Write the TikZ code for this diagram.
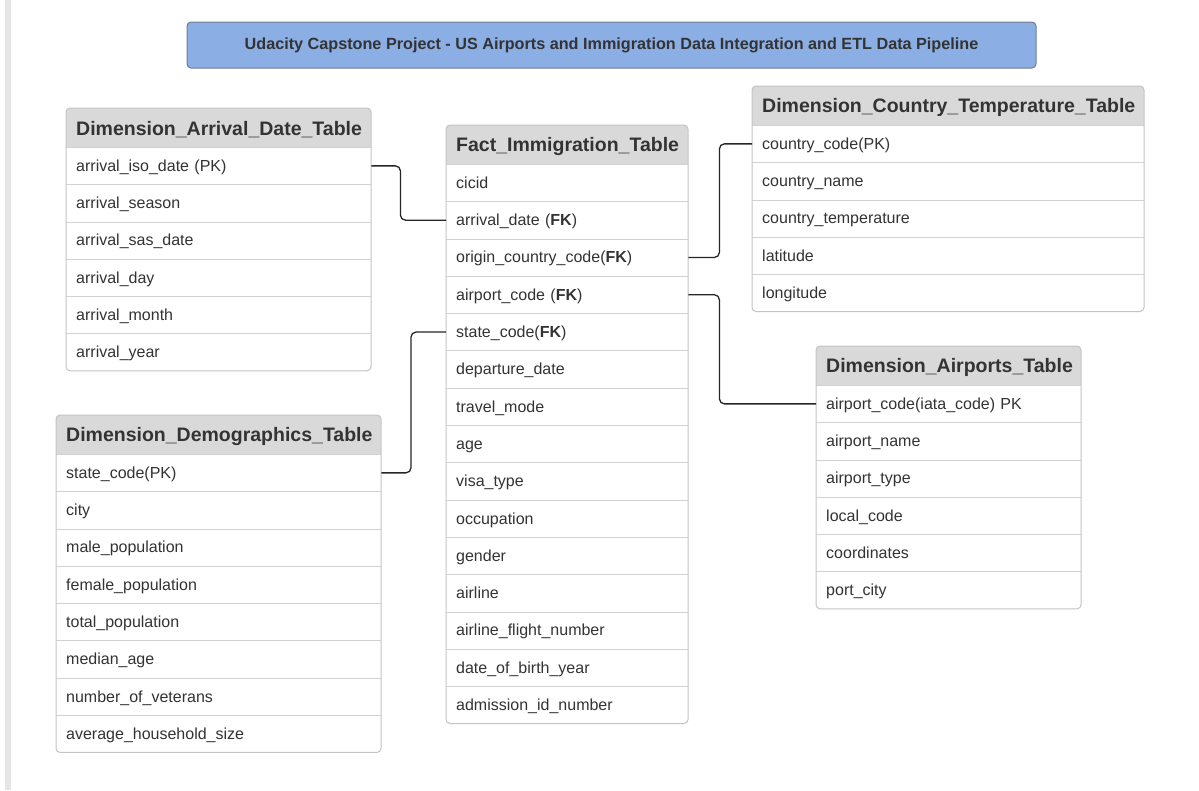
\documentclass[tikz,border=0pt]{standalone}
\usepackage{fontspec}
\setmainfont{Liberation Sans}
\usetikzlibrary{calc}
\definecolor{txt}{HTML}{333333}
\definecolor{headfill}{HTML}{D9D9D9}
\definecolor{tborder}{HTML}{C4C4C4}
\definecolor{rowsep}{HTML}{D2D2D2}
\definecolor{titlefill}{HTML}{8BAEE4}
\definecolor{titleborder}{HTML}{6F7D93}
\definecolor{sidebar}{HTML}{E6E6E6}
\tikzset{
  rowtext/.style={rectangle, inner xsep=10pt, inner ysep=0pt, anchor=north west,
    text=txt, font=\fontsize{16}{18}\selectfont, align=left, text height=13.5pt, text depth=2.5pt},
  headtext/.style={anchor=west, inner sep=0pt, text=txt, font=\fontsize{19.5}{22}\selectfont\bfseries},
  conn/.style={draw=black!85, line width=1.3pt, rounded corners=5pt},
  sepline/.style={draw=rowsep, line width=1pt},
  tableframe/.style={draw=tborder, line width=1pt, rounded corners=4pt},
}
% #1 name, #2 x, #3 y, #4 width, #5 rows count, #6 title, #7 rows
\newcommand\ertable[7]{%
  \pgfmathsetmacro\tabH{39+#5*37.3}%
  \fill[white, rounded corners=4pt] (#2,#3) rectangle ++(#4,\tabH);
  \begin{scope}
    \clip[rounded corners=4pt] (#2,#3) rectangle ++(#4,\tabH);
    \fill[headfill] (#2,#3) rectangle ++(#4,39);
  \end{scope}
  \draw[sepline] (#2,#3+39) -- ++(#4,0);
  \node[headtext] (#1) at (#2+10,#3+21.5) {#6};
  \foreach \r [count=\i] in {#7} {
    \node[rowtext, minimum height=37.3pt, text width=#4pt-20pt] (#1-\i)
      at (#2,#3+39+\i*37.3-37.3) {\r};
    \ifnum\i<#5\relax
      \draw[sepline] (#1-\i.south west) -- (#1-\i.south east);
    \fi
  }
  \draw[tableframe] (#2,#3) rectangle ++(#4,\tabH);
}
\begin{document}
\begin{tikzpicture}[x=1pt,y=-1pt]
\useasboundingbox (0,0) rectangle (1199,790);
\fill[white] (0,0) rectangle (1199,790);
\fill[sidebar] (5,0) rectangle (11,790);
% title
\node[draw=titleborder, fill=titlefill, rounded corners=4pt, line width=1pt,
  minimum width=849pt, minimum height=46pt, inner sep=0pt,
  text=txt, font=\fontsize{16.2}{19}\selectfont\bfseries] (title) at (611.5,45)
  {Udacity Capstone Project - US Airports and Immigration Data Integration and ETL Data Pipeline};

\ertable{arr}{66}{108}{305}{6}{Dimension\_Arrival\_Date\_Table}
  {arrival\_iso\_date (PK),arrival\_season,arrival\_sas\_date,arrival\_day,arrival\_month,arrival\_year}

\ertable{fact}{446}{125}{242}{15}{Fact\_Immigration\_Table}
  {cicid,arrival\_date (\textbf{FK}),origin\_country\_code(\textbf{FK}),airport\_code (\textbf{FK}),state\_code(\textbf{FK}),departure\_date,travel\_mode,age,visa\_type,occupation,gender,airline,airline\_flight\_number,date\_of\_birth\_year,admission\_id\_number}

\ertable{ctry}{752}{86}{392}{5}{Dimension\_Country\_Temperature\_Table}
  {country\_code(PK),country\_name,country\_temperature,latitude,longitude}

\ertable{air}{816}{346}{265}{6}{Dimension\_Airports\_Table}
  {airport\_code(iata\_code) PK,airport\_name,airport\_type,local\_code,coordinates,port\_city}

\ertable{demo}{56}{415}{325}{8}{Dimension\_Demographics\_Table}
  {state\_code(PK),city,male\_population,female\_population,total\_population,median\_age,number\_of\_veterans,average\_household\_size}

% connectors
\draw[conn] (arr-1.east) -- ++(29,0) |- (fact-2.west);
\draw[conn] (fact-3.east) -- ++(31,0) |- (ctry-1.west);
\draw[conn] (fact-4.east) -- ++(31,0) |- (air-1.west);
\draw[conn] (fact-5.west) -- ++(-35,0) |- (demo-1.east);
\end{tikzpicture}
\end{document}
